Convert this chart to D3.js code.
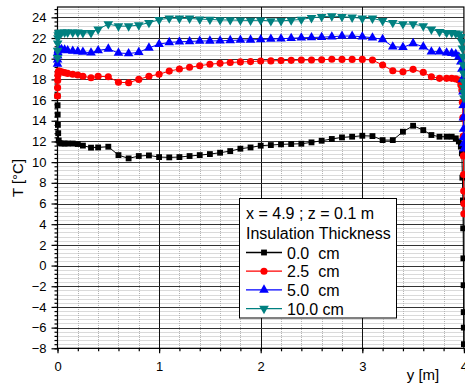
<!DOCTYPE html>
<html><head><meta charset="utf-8">
<script src="https://cdn.jsdelivr.net/npm/d3@7/dist/d3.min.js"></script>
<style>
html,body{margin:0;padding:0;background:#fff;}
svg{display:block;font-family:"Liberation Sans",Arial,sans-serif;}
</style></head>
<body>
<svg id="chart" width="465" height="385"></svg>
<script>
// ---- data ----
const xs = [0, 0.001, 0.002, 0.004, 0.007, 0.012, 0.02, 0.04, 0.07, 0.1, 0.15, 0.2, 0.25, 0.33,
  0.4, 0.5, 0.6, 0.7, 0.8, 0.9, 1.0, 1.1, 1.2, 1.3, 1.4, 1.5, 1.6, 1.7, 1.8, 1.9, 2.0, 2.1, 2.2,
  2.3, 2.4, 2.5, 2.6, 2.7, 2.8, 2.9, 3.0, 3.1, 3.2, 3.3, 3.4, 3.5, 3.6,
  3.68, 3.76, 3.83, 3.88, 3.92, 3.95, 3.97, 3.98, 3.985, 3.99, 3.993, 3.995, 3.997, 3.998, 3.999, 4.0];

const t0cm = [16.4, 15.5, 14.6, 13.6, 12.8, 12.1, 11.85, 11.8, 11.8, 11.8, 11.8, 11.75, 11.6, 11.4,
  11.42, 11.49, 10.68, 10.36, 10.59, 10.65, 10.49, 10.46, 10.49, 10.59, 10.68, 10.78, 10.91, 11.07, 11.30, 11.42, 11.59, 11.65, 11.72,
  11.75, 11.78, 11.91, 12.07, 12.24, 12.39, 12.46, 12.55, 12.52, 12.13, 12.13, 12.94, 13.52, 13.10,
  12.62, 12.46, 12.46, 12.46, 12.3, 12.0, 11.5, 10.85, 8.5, 6.3, 3.6, 0.7, -1.9, -4.5, -6.0, -7.6];

const t25cm = [16.4, 17.2, 17.9, 18.4, 18.7, 18.8, 18.78, 18.74, 18.65, 18.58, 18.5, 18.42, 18.3, 18.16,
  18.3, 18.26, 17.72, 17.68, 18.0, 18.3, 18.5, 18.8, 19.0, 19.17, 19.32, 19.47, 19.55, 19.63, 19.69, 19.72, 19.78, 19.79, 19.82,
  19.84, 19.87, 19.88, 19.9, 19.95, 19.93, 19.93, 19.93, 19.87, 19.39, 18.84, 18.74, 18.97, 18.68,
  18.26, 18.1, 18.1, 18.1, 18.05, 17.94, 17.45, 16.97, 15.8, 14.3, 12.5, 10.6, 8.8, 7.2, 6.0, 5.0];

const t50cm = [19.5, 19.9, 20.3, 20.6, 20.8, 20.9, 20.92, 20.9, 20.85, 20.8, 20.75, 20.7, 20.65, 20.58,
  20.8, 20.95, 20.55, 20.5, 20.62, 21.05, 21.4, 21.58, 21.64, 21.67, 21.71, 21.72, 21.73, 21.77, 21.8, 21.82, 21.86, 21.9, 21.93,
  21.98, 22.02, 22.05, 22.08, 22.13, 22.19, 22.19, 22.13, 22.03, 21.87, 21.16, 21.1, 21.48, 21.16,
  20.68, 20.68, 20.58, 20.52, 20.45, 20.19, 19.71, 19.0, 18.0, 16.8, 15.5, 14.3, 13.2, 12.4, 11.8, 11.3];

const t100cm = [20.1, 20.8, 21.5, 22.0, 22.3, 22.45, 22.5, 22.55, 22.55, 22.55, 22.55, 22.55, 22.5, 22.5,
  22.84, 23.35, 23.15, 23.15, 23.25, 23.48, 23.77, 23.92, 23.9, 23.9, 23.82, 23.8, 23.75, 23.74, 23.72, 23.7, 23.72, 23.65, 23.66,
  23.72, 23.8, 23.95, 24.05, 24.12, 24.06, 24.0, 23.9, 23.9, 23.67, 23.48, 23.35, 23.35, 23.16,
  22.84, 22.61, 22.51, 22.51, 22.45, 22.39, 22.13, 21.64, 21.0, 20.2, 19.4, 18.6, 17.8, 17.2, 16.7, 16.2];

const seriesNames = ["0.0  cm", "2.5  cm", "5.0  cm", "10.0 cm"];
const xTickValues = [0, 1, 2, 3, 4];
const yTickValues = [-8, -6, -4, -2, 0, 2, 4, 6, 8, 10, 12, 14, 16, 18, 20, 22, 24];
const legendTitle = ["x = 4.9 ; z = 0.1 m", "Insulation Thickness"];

// ---- chart ----
const svg = d3.select("#chart");
const x = d3.scaleLinear().domain([0, 4]).range([57.5, 463.9]);
const y = d3.scaleLinear().domain([-8, 25]).range([348.3, 7]);
const [x0, x1] = x.range(), [y0, y1] = y.range();

const xMinor = d3.range(0, 4.0001, 0.2).map(v => +v.toFixed(2));
const yMinor = d3.range(-8, 25.0001, 0.4).map(v => +v.toFixed(2));

// minor dotted grid
const grid = svg.append("g");
grid.selectAll(".vmin").data(xMinor.filter(v => Math.abs(v - Math.round(v)) > 1e-6)).join("line")
  .attr("x1", d => Math.round(x(d)) + 0.5).attr("x2", d => Math.round(x(d)) + 0.5)
  .attr("y1", y1).attr("y2", y0)
  .attr("stroke", "#b4b4b4").attr("stroke-width", 1).attr("stroke-dasharray", "1,1");
grid.selectAll(".hmin").data(yMinor.filter(v => Math.abs(v / 2 - Math.round(v / 2)) > 1e-6)).join("line")
  .attr("x1", x0).attr("x2", x1)
  .attr("y1", d => Math.round(y(d)) + 0.5).attr("y2", d => Math.round(y(d)) + 0.5)
  .attr("stroke", "#b4b4b4").attr("stroke-width", 1).attr("stroke-dasharray", "1,1");
// major grid
grid.selectAll(".vmaj").data(xTickValues.slice(1, -1)).join("line")
  .attr("x1", d => Math.round(x(d)) + 0.5).attr("x2", d => Math.round(x(d)) + 0.5)
  .attr("y1", y1).attr("y2", y0).attr("stroke", "#111").attr("stroke-width", 1);
grid.selectAll(".hmaj").data(yTickValues).join("line")
  .attr("x1", x0).attr("x2", x1)
  .attr("y1", d => Math.round(y(d)) + 0.5).attr("y2", d => Math.round(y(d)) + 0.5)
  .attr("stroke", "#333").attr("stroke-width", 1);

// frame
svg.append("rect").attr("x", x0).attr("y", y1).attr("width", x1 - x0).attr("height", y0 - y1)
  .attr("fill", "none").attr("stroke", "#000").attr("stroke-width", 1.2);

// axes
const fontTick = "13px";
svg.append("g").attr("transform", `translate(${x0},0)`)
  .call(d3.axisLeft(y).tickValues(yTickValues).tickSize(6).tickPadding(5).tickFormat(d3.format("d")));
svg.append("g").attr("transform", `translate(${x0},0)`)
  .call(d3.axisLeft(y).tickValues(yMinor).tickSize(3).tickFormat(""));
svg.append("g").attr("transform", `translate(0,${y0})`)
  .call(d3.axisBottom(x).tickValues(xTickValues).tickSize(5).tickPadding(8).tickFormat(d3.format("d")));
svg.append("g").attr("transform", `translate(0,${y0})`)
  .call(d3.axisBottom(x).tickValues(xMinor).tickSize(3).tickFormat(""));
svg.selectAll(".domain").remove();
svg.selectAll(".tick line").attr("stroke", "#000").attr("stroke-width", 1.2);
svg.selectAll(".tick text").attr("font-size", fontTick).attr("fill", "#000")
  .attr("font-family", "'Liberation Sans',Arial,sans-serif");

// axis titles
svg.append("text").attr("x", 423).attr("y", 380).attr("text-anchor", "middle")
  .attr("font-size", "15px").text("y [m]");
svg.append("text").attr("transform", "translate(23,178) rotate(-90)").attr("text-anchor", "middle")
  .attr("font-size", "15px").text("T [°C]");

// series
const styles = [
  {color: "#000000", sym: d3.symbolSquare, size: 34, rot: 0},
  {color: "#ff0000", sym: d3.symbolCircle, size: 40, rot: 0},
  {color: "#0000ff", sym: d3.symbolTriangle, size: 40, rot: 0},
  {color: "#008080", sym: d3.symbolTriangle, size: 40, rot: 180}
];
const allSeries = [t0cm, t25cm, t50cm, t100cm];
const line = d3.line().x(d => x(d[0])).y(d => y(d[1]));
allSeries.forEach((vals, i) => {
  const pts = xs.map((xv, j) => [xv, vals[j]]);
  const g = svg.append("g");
  g.append("path").datum(pts).attr("d", line).attr("fill", "none")
    .attr("stroke", styles[i].color).attr("stroke-width", 1);
  g.selectAll("path.m").data(pts).join("path").attr("class", "m")
    .attr("d", d3.symbol(styles[i].sym, styles[i].size))
    .attr("transform", d => `translate(${x(d[0])},${y(d[1])}) rotate(${styles[i].rot})`)
    .attr("fill", styles[i].color);
});

// legend
const lg = svg.append("g");
lg.append("rect").attr("x", 239.5).attr("y", 198.5).attr("width", 157).attr("height", 119.5)
  .attr("fill", "#fff").attr("stroke", "#000").attr("stroke-width", 1);
lg.selectAll("text.t").data(legendTitle).join("text").attr("class", "t")
  .attr("x", 246).attr("y", (d, i) => 219 + i * 19.5).attr("font-size", "16px").text(d => d);
seriesNames.forEach((name, i) => {
  const cy = 252.5 + i * 18.7;
  lg.append("line").attr("x1", 246).attr("x2", 282).attr("y1", cy).attr("y2", cy)
    .attr("stroke", styles[i].color).attr("stroke-width", 1.3);
  lg.append("path").attr("d", d3.symbol(styles[i].sym, styles[i].size)())
    .attr("transform", `translate(264,${cy}) rotate(${styles[i].rot})`).attr("fill", styles[i].color);
  lg.append("text").attr("x", 287).attr("y", cy + 6).attr("font-size", "16px")
    .style("white-space", "pre").text(name);
});
</script>
</body></html>
